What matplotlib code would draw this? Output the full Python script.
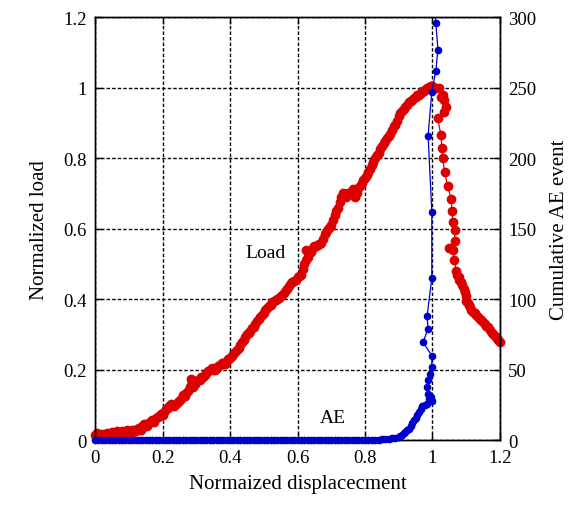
import numpy as np
import matplotlib.pyplot as plt
from matplotlib.patches import Rectangle
from matplotlib.ticker import FormatStrFormatter, MultipleLocator

# Data
# main load trace (drawn with a line)
load_x = [0.00, 0.01, 0.02, 0.03, 0.04, 0.05, 0.06, 0.07, 0.08, 0.09,
          0.10, 0.11, 0.12, 0.13, 0.14, 0.15, 0.16, 0.17, 0.18, 0.19,
          0.20, 0.21, 0.22, 0.23, 0.24, 0.25, 0.26, 0.27, 0.28, 0.285,
          0.29, 0.30, 0.31, 0.32, 0.33, 0.34, 0.35, 0.36, 0.37, 0.38,
          0.39, 0.40, 0.41, 0.42, 0.43, 0.44, 0.45, 0.46, 0.47, 0.48,
          0.49, 0.50, 0.51, 0.52, 0.53, 0.54, 0.55, 0.56, 0.57, 0.58,
          0.59, 0.60, 0.61, 0.62, 0.625, 0.63, 0.64, 0.65, 0.66, 0.67,
          0.68, 0.69, 0.70, 0.71, 0.72, 0.73, 0.74, 0.75, 0.76, 0.77,
          0.78, 0.79, 0.80, 0.81, 0.82, 0.83, 0.84, 0.85, 0.86, 0.87,
          0.88, 0.89, 0.90, 0.91, 0.92, 0.93, 0.94, 0.95, 0.96, 0.97,
          0.98, 0.99, 1.00, 1.01, 1.02, 1.025, 1.035, 1.04, 1.035, 1.015,
          1.025, 1.028, 1.030, 1.036, 1.045, 1.055, 1.058, 1.060, 1.066, 1.066,
          1.048, 1.062, 1.065, 1.072, 1.080, 1.088, 1.095, 1.100, 1.108, 1.115,
          1.125, 1.135, 1.145, 1.155, 1.165, 1.175, 1.185, 1.195, 1.200]
load_y = [0.015, 0.012, 0.018, 0.010, 0.015, 0.022, 0.014, 0.020, 0.025, 0.018,
          0.022, 0.030, 0.026, 0.035, 0.040, 0.045, 0.050, 0.058, 0.062, 0.068,
          0.072, 0.090, 0.098, 0.100, 0.102, 0.110, 0.128, 0.135, 0.150, 0.175,
          0.150, 0.165, 0.172, 0.180, 0.192, 0.198, 0.200, 0.205, 0.212, 0.220,
          0.225, 0.232, 0.245, 0.255, 0.270, 0.285, 0.300, 0.310, 0.322, 0.338,
          0.350, 0.362, 0.375, 0.385, 0.395, 0.400, 0.408, 0.418, 0.430, 0.445,
          0.452, 0.462, 0.470, 0.500, 0.540, 0.520, 0.535, 0.550, 0.555, 0.560,
          0.585, 0.600, 0.610, 0.640, 0.660, 0.690, 0.695, 0.700, 0.705, 0.690,
          0.715, 0.730, 0.745, 0.760, 0.780, 0.800, 0.815, 0.835, 0.850, 0.862,
          0.880, 0.895, 0.920, 0.935, 0.945, 0.960, 0.965, 0.975, 0.980, 0.990,
          0.995, 1.002, 1.005, 0.998, 1.000, 0.975, 0.965, 0.945, 0.930, 0.915,
          0.865, 0.830, 0.800, 0.760, 0.720, 0.685, 0.650, 0.620, 0.595, 0.565,
          0.545, 0.540, 0.510, 0.470, 0.455, 0.440, 0.420, 0.395, 0.385, 0.370,
          0.360, 0.350, 0.340, 0.330, 0.320, 0.305, 0.295, 0.285, 0.280]

# extra load samples between the above (markers only)
load_x2 = [0.005, 0.015, 0.025, 0.035, 0.045, 0.055, 0.065, 0.075, 0.085, 0.095,
           0.105, 0.115, 0.125, 0.135, 0.145, 0.155, 0.165, 0.175, 0.185, 0.195,
           0.205, 0.215, 0.225, 0.235, 0.245, 0.255, 0.265, 0.275, 0.285, 0.295,
           0.305, 0.315, 0.325, 0.335, 0.345, 0.355, 0.365, 0.375, 0.385, 0.395,
           0.405, 0.415, 0.425, 0.435, 0.445, 0.455, 0.465, 0.475, 0.485, 0.495,
           0.505, 0.515, 0.525, 0.535, 0.545, 0.555, 0.565, 0.575, 0.585, 0.595,
           0.605, 0.615, 0.625, 0.635, 0.645, 0.655, 0.665, 0.675, 0.685, 0.695,
           0.705, 0.715, 0.725, 0.735, 0.745, 0.755, 0.765, 0.775, 0.785, 0.795,
           0.805, 0.815, 0.825, 0.835, 0.845, 0.855, 0.865, 0.875, 0.885, 0.895,
           0.905, 0.915, 0.925, 0.935, 0.945, 0.955, 0.965, 0.975, 0.985, 0.995,
           1.005, 1.030, 1.070, 1.078, 1.085, 1.092, 1.098, 1.105, 1.112, 1.120,
           1.130, 1.140, 1.150, 1.160, 1.170, 1.180, 1.190]
load_y2 = [0.020, 0.010, 0.014, 0.020, 0.012, 0.018, 0.025, 0.016, 0.022, 0.028,
           0.020, 0.025, 0.032, 0.030, 0.045, 0.040, 0.055, 0.052, 0.066, 0.075,
           0.080, 0.092, 0.104, 0.096, 0.108, 0.118, 0.125, 0.140, 0.158, 0.160,
           0.170, 0.178, 0.185, 0.196, 0.205, 0.198, 0.210, 0.218, 0.215, 0.230,
           0.240, 0.250, 0.262, 0.280, 0.292, 0.305, 0.318, 0.330, 0.345, 0.355,
           0.370, 0.380, 0.392, 0.398, 0.404, 0.412, 0.425, 0.438, 0.450, 0.455,
           0.465, 0.485, 0.510, 0.530, 0.545, 0.552, 0.558, 0.570, 0.592, 0.605,
           0.625, 0.650, 0.675, 0.700, 0.690, 0.700, 0.712, 0.700, 0.722, 0.738,
           0.752, 0.770, 0.790, 0.808, 0.825, 0.842, 0.856, 0.870, 0.890, 0.905,
           0.928, 0.940, 0.952, 0.962, 0.972, 0.978, 0.985, 0.992, 1.000, 1.004,
           1.000, 0.980, 0.480, 0.462, 0.450, 0.430, 0.410, 0.390, 0.378, 0.365,
           0.355, 0.345, 0.335, 0.325, 0.312, 0.300, 0.290]

ae_x = [0.00, 0.01, 0.02, 0.03, 0.04, 0.05, 0.06, 0.07, 0.08, 0.09,
        0.10, 0.11, 0.12, 0.13, 0.14, 0.15, 0.16, 0.17, 0.18, 0.19,
        0.20, 0.21, 0.22, 0.23, 0.24, 0.25, 0.26, 0.27, 0.28, 0.29,
        0.30, 0.31, 0.32, 0.33, 0.34, 0.35, 0.36, 0.37, 0.38, 0.39,
        0.40, 0.41, 0.42, 0.43, 0.44, 0.45, 0.46, 0.47, 0.48, 0.49,
        0.50, 0.51, 0.52, 0.53, 0.54, 0.55, 0.56, 0.57, 0.58, 0.59,
        0.60, 0.61, 0.62, 0.63, 0.64, 0.65, 0.66, 0.67, 0.68, 0.69,
        0.70, 0.71, 0.72, 0.73, 0.74, 0.75, 0.76, 0.77, 0.78, 0.79,
        0.80, 0.81, 0.82, 0.83, 0.84, 0.85, 0.86, 0.87, 0.88, 0.89,
        0.90, 0.905, 0.91, 0.915, 0.92, 0.925, 0.93, 0.935, 0.94, 0.945,
        0.95, 0.955, 0.96, 0.965, 0.97, 0.978, 0.985, 0.99, 0.998, 0.995,
        0.987, 0.984, 0.987, 0.992, 0.998, 0.998, 0.972, 0.987, 0.984, 0.998,
        0.998, 0.987, 0.998, 1.010, 1.016, 1.010, 0.998]
ae_y = [0, 0, 0, 0, 0, 0, 0, 0, 0, 0,
        0, 0, 0, 0, 0, 0, 0, 0, 0, 0,
        0, 0, 0, 0, 0, 0, 0, 0, 0, 0,
        0, 0, 0, 0, 0, 0, 0, 0, 0, 0,
        0, 0, 0, 0, 0, 0, 0, 0, 0, 0,
        0, 0, 0, 0, 0, 0, 0, 0, 0, 0,
        0, 0, 0, 0, 0, 0, 0, 0, 0, 0,
        0, 0, 0, 0, 0, 0, 0, 0, 0, 0,
        0, 0, 0.5, 0.5, 0.5, 1, 1, 1, 1.5, 1.5,
        2, 3, 4, 5, 6, 7, 8, 10, 12, 14,
        16, 18, 20, 22, 24, 25, 26, 29, 28, 31,
        33, 38, 43, 47, 52, 60, 69.5, 79, 88, 115,
        162, 216, 247, 262, 277, 296, 320]

plt.rcParams['font.family'] = ['Liberation Serif', 'DejaVu Serif']
plt.rcParams['font.size'] = 13.5

red = '#dd0000'
blue = '#0000cc'

fig = plt.figure(figsize=(5.8, 5.06), dpi=100)
ax = fig.add_axes([0.164, 0.128, 0.698, 0.836])
ax2 = ax.twinx()

l1, = ax.plot(load_x, load_y, '-o', color=red, lw=0.9, ms=6, mec=red, zorder=2)
l2, = ax.plot(load_x2, load_y2, 'o', color=red, ms=6, mec=red, zorder=2)
l3, = ax2.plot(ae_x, ae_y, '-o', color=blue, lw=0.9, ms=4.5, mec=blue, zorder=3)

# let markers sitting on the bottom axis show in full, keep the top clipped
for line, a in ((l1, ax), (l2, ax), (l3, ax2)):
    line.set_clip_path(Rectangle((-0.02, -0.03), 1.04, 1.03,
                                 transform=a.transAxes))

ax.set_xlim(0, 1.2)
ax.set_ylim(0, 1.2)
ax2.set_ylim(0, 300)
ax.xaxis.set_major_locator(MultipleLocator(0.2))
ax.yaxis.set_major_locator(MultipleLocator(0.2))
ax2.yaxis.set_major_locator(MultipleLocator(50))
ax.xaxis.set_major_formatter(FormatStrFormatter('%g'))
ax.yaxis.set_major_formatter(FormatStrFormatter('%g'))

ax.grid(True, color='black', linestyle=(0, (2.5, 1.5)), lw=1.0)
ax.set_axisbelow(True)
ax.tick_params(direction='in', top=True, length=5, width=1, pad=6)
ax2.tick_params(direction='in', length=5, width=1, pad=6)
for a in (ax, ax2):
    for s in a.spines.values():
        s.set_linewidth(1.0)

ax.set_xlabel('Normaized displacecment', fontsize=15, labelpad=6)
ax.set_ylabel('Normalized load', fontsize=15, labelpad=10)
ax2.set_ylabel('Cumulative AE event', fontsize=15, labelpad=10)

ax.text(0.504, 0.533, 'Load', fontsize=14, ha='center', va='center')
ax.text(0.705, 0.065, 'AE', fontsize=14, ha='center', va='center')

fig.savefig('out.png', dpi=100)
